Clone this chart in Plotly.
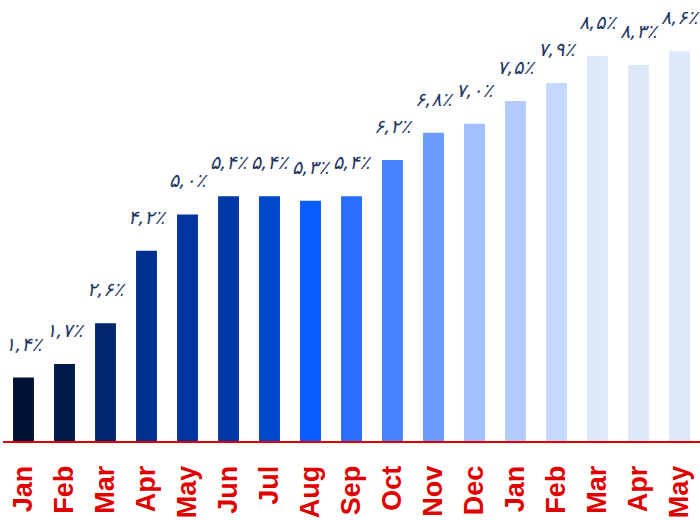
import plotly.graph_objects as go

# monthly values (two overlapping years, so positions are numeric)
months = ["Jan", "Feb", "Mar", "Apr", "May", "Jun", "Jul", "Aug", "Sep",
          "Oct", "Nov", "Dec", "Jan", "Feb", "Mar", "Apr", "May"]
values = [1.4, 1.7, 2.6, 4.2, 5.0, 5.4, 5.4, 5.3, 5.4,
          6.2, 6.8, 7.0, 7.5, 7.9, 8.5, 8.3, 8.6]
labels = ["۱,۴٪", "۱,۷٪", "۲,۶٪", "۴,۲٪", "۵,۰٪", "۵,۴٪", "۵,۴٪", "۵,۳٪", "۵,۴٪",
          "۶,۲٪", "۶,۸٪", "۷,۰٪", "۷,۵٪", "۷,۹٪", "۸,۵٪", "۸,۳٪", "۸,۶٪"]
colors = ["#001233", "#001a4a", "#002670", "#003090", "#0035a0", "#0038a8",
          "#0048cc", "#0a5cff", "#2a6eff", "#4683ff", "#6b9bff", "#a3bffd",
          "#b3cbfd", "#c5d8fd", "#dde9fa", "#dde9fa", "#dde9fa"]

x = list(range(len(months)))

fig = go.Figure(go.Bar(
    x=x,
    y=values,
    marker=dict(color=colors, line=dict(width=0)),
    width=0.51,
    hoverinfo="skip"
))

# value labels floating above each bar
for xi, v, t in zip(x, values, labels):
    fig.add_annotation(x=xi, y=v, text=t, showarrow=False,
                       yanchor="bottom", yshift=21,
                       font=dict(family="DejaVu Sans", size=19, color="#1f3864",
                                 style="italic"))

fig.update_layout(
    width=700, height=520,
    margin=dict(l=3, r=0, t=0, b=79),
    plot_bgcolor="white", paper_bgcolor="white",
    showlegend=False,
)
fig.update_xaxes(
    range=[-0.5, 16.5],
    tickmode="array", tickvals=x, ticktext=["<b>%s</b>" % m for m in months],
    tickangle=-90, automargin=False, ticklabelstandoff=12,
    tickfont=dict(family="Liberation Sans", size=27, color="#e00000"),
    showline=True, linecolor="#e00000", linewidth=2,
    showgrid=False, ticks="", zeroline=False,
)
fig.update_yaxes(range=[0, 9.73], visible=False, showgrid=False)

# page body margin would shift the chart by 8px
fig.write_html("out.html", config={"displayModeBar": False},
               post_script="document.body.style.margin='0';")
